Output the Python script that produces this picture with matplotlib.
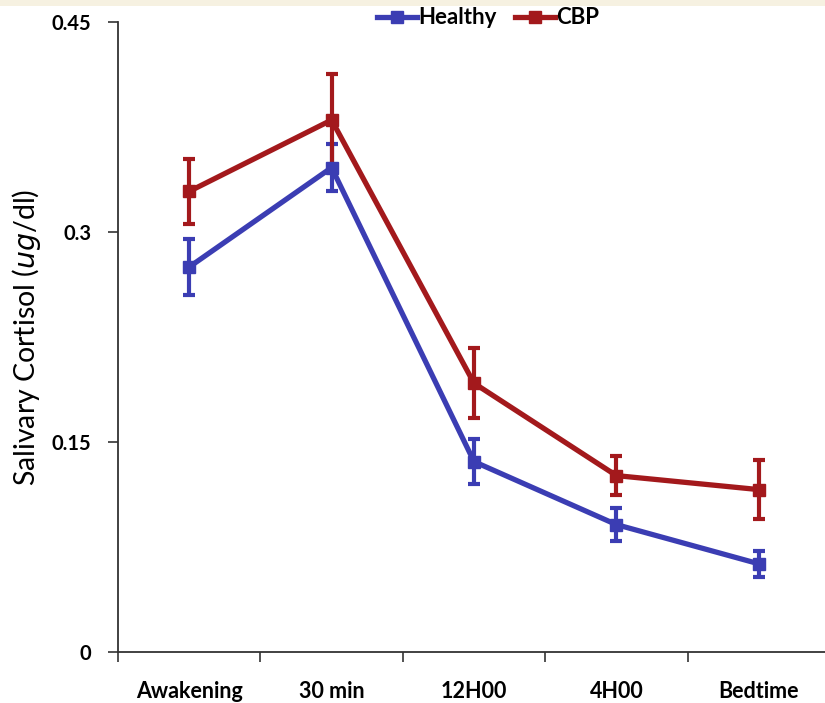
import matplotlib
matplotlib.use("Agg")
import matplotlib.pyplot as plt
from matplotlib.patches import Rectangle
from matplotlib.lines import Line2D
import numpy as np

categories = ["Awakening", "30 min", "12H00", "4H00", "Bedtime"]
healthy = [0.275, 0.346, 0.136, 0.091, 0.063]
healthy_err = [0.020, 0.017, 0.016, 0.012, 0.0095]
cbp = [0.329, 0.380, 0.192, 0.126, 0.116]
cbp_err = [0.023, 0.033, 0.025, 0.014, 0.021]
yticks = [0, 0.15, 0.3, 0.45]
yticklabels = ["0", "0.15", "0.3", "0.45"]

plt.rcParams['font.family'] = ['Lato', 'DejaVu Sans']

fig = plt.figure(figsize=(8.25, 7.03), dpi=100)
fig.patches.append(Rectangle((0, 1 - 6/703), 1, 6/703, transform=fig.transFigure,
                             facecolor="#f6f1e1", edgecolor="none", zorder=0))
ax = fig.add_axes([118/825, 51/703, 712/825, 630/703])

blue = "#3b3db3"
red = "#a3191c"
x = np.arange(len(categories))
handles = []
for vals, err, col, lab in [(healthy, healthy_err, blue, "Healthy"), (cbp, cbp_err, red, "CBP")]:
    ax.errorbar(x, vals, yerr=err, color=col, lw=3.8, marker='s', markersize=9,
                elinewidth=3, capsize=4, capthick=3, clip_on=False)
    handles.append(Line2D([], [], color=col, lw=3.8, marker='s', markersize=9, label=lab))

ax.set_xlim(-0.5, 4.5)
ax.set_ylim(0, 0.45)
ax.set_yticks(yticks)
ax.set_yticklabels(yticklabels, fontsize=14.5, fontweight='bold')
ax.set_xticks(np.arange(-0.5, 4.6, 1.0))
ax.set_xticklabels([])
ax.set_xticks(x, minor=True)
ax.set_xticklabels(categories, minor=True, fontsize=15.5, fontweight='bold')
ax.tick_params(axis='x', which='minor', length=0, pad=21)
ax.tick_params(axis='x', which='major', length=7, width=1.2, direction='out', color='#333333')
ax.tick_params(axis='y', length=7, width=1.2, direction='out', color='#333333', pad=12)
for s in ['top', 'right']:
    ax.spines[s].set_visible(False)
for s in ['left', 'bottom']:
    ax.spines[s].set_color('#333333')
    ax.spines[s].set_linewidth(1.3)

ax.set_ylabel("Salivary Cortisol ($\\it{ug}$/dl)", fontsize=20.5)
ax.yaxis.set_label_coords(-0.105, 0.5)

fig.legend(handles=handles, loc='center', bbox_to_anchor=(488/825, 1 - 18/703), ncol=2,
           frameon=False, prop={'weight': 'bold', 'size': 16}, handlelength=1.8,
           handletextpad=0.05, columnspacing=0.8)

fig.savefig("out.png", dpi=100)
